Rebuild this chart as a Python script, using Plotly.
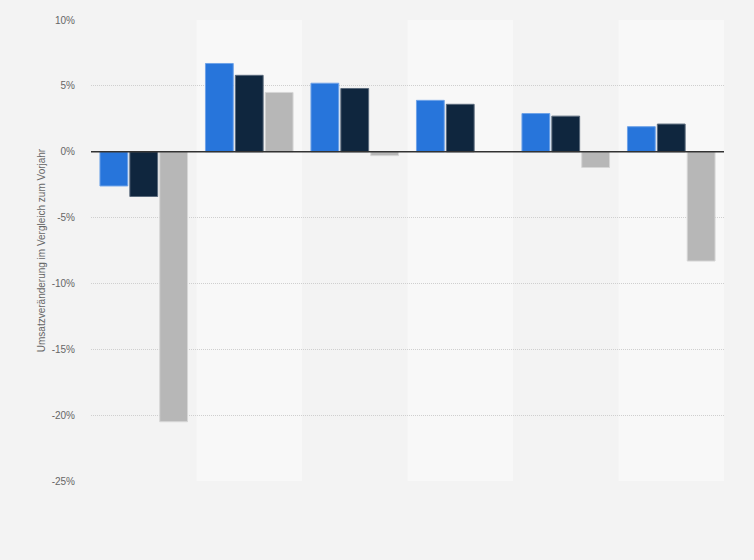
import plotly.graph_objects as go

categories = ["1", "2", "3", "4", "5", "6"]
series_a = [-2.6, 6.7, 5.2, 3.9, 2.9, 1.9]
series_b = [-3.4, 5.8, 4.8, 3.6, 2.7, 2.1]
series_c = [-20.5, 4.5, -0.3, None, -1.2, -8.3]
series_names = ["Serie A", "Serie B", "Serie C"]
colors = ["#2775db", "#0f263e", "#b7b7b7"]
line_colors = ["#6fa3e8", "#5a6a7c", "#d6d6d6"]
y_ticks = [10, 5, 0, -5, -10, -15, -20, -25]
y_tick_labels = ["10%", "5%", "0%", "-5%", "-10%", "-15%", "-20%", "-25%"]

fig = go.Figure()
for name, vals, c, lc in zip(series_names, [series_a, series_b, series_c], colors, line_colors):
    fig.add_trace(go.Bar(x=categories, y=vals, name=name,
                         marker=dict(color=c, line=dict(color=lc, width=1))))

shapes = []
for i, cat in enumerate(categories):
    if i % 2 == 1:
        shapes.append(dict(type="rect", xref="x", yref="paper", x0=i - 0.5, x1=i + 0.5,
                           y0=0, y1=1, fillcolor="#f8f8f8", line=dict(width=0), layer="below"))
shapes.append(dict(type="line", xref="paper", yref="y", x0=0, x1=1, y0=0, y1=0,
                   line=dict(color="#333333", width=1.5)))

fig.update_layout(
    width=754, height=560,
    margin=dict(l=91, r=30, t=20, b=79),
    paper_bgcolor="#f3f3f3", plot_bgcolor="#f3f3f3",
    showlegend=False,
    barmode="group", bargap=0.15, bargroupgap=0.07,
    shapes=shapes,
    font=dict(family="Arial, Liberation Sans, sans-serif", color="#666666", size=10),
    xaxis=dict(showticklabels=False, showgrid=False, zeroline=False, ticks="",
               range=[-0.5, 5.5]),
    yaxis=dict(range=[-25, 10], tickvals=y_ticks, ticktext=y_tick_labels,
               showgrid=True, gridcolor="#cfcfcf", griddash="1px,1px", gridwidth=1,
               zeroline=False, ticks="", ticklabelstandoff=15,
               title=dict(text="Umsatzveränderung im Vergleich zum Vorjahr",
                          font=dict(size=10, color="#666666"), standoff=4)),
)

fig.write_html("out.html", config={"displayModeBar": False},
               post_script="document.body.style.margin='0';document.body.style.background='#f3f3f3';")
